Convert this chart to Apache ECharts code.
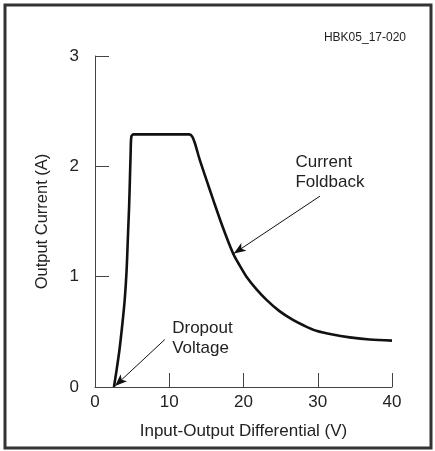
<!DOCTYPE html>
<html>
<head>
<meta charset="utf-8">
<script src="https://cdn.jsdelivr.net/npm/echarts@6/dist/echarts.min.js"></script>
<style>
html, body { margin: 0; padding: 0; background: #fff; }
#main { width: 435px; height: 451px; }
</style>
</head>
<body>
<div id="main"></div>
<script>
// curve: input-output differential (V) vs output current (A)
var voltage = [2.55, 2.9, 3.3, 3.7, 4.0, 4.25, 4.45, 4.6, 4.7, 4.8, 4.9, 5.2, 8, 11, 12.7, 13.1, 13.5, 14.1, 15, 15.9, 17.2, 18.6, 19.5, 20.4, 21.7, 23.1, 24.8, 26.6, 28.2, 29.8, 32, 34.3, 37, 40];
var current = [0, 0.15, 0.34, 0.58, 0.79, 1.05, 1.39, 1.65, 1.88, 2.12, 2.27, 2.29, 2.29, 2.29, 2.29, 2.27, 2.2, 2.06, 1.88, 1.70, 1.45, 1.21, 1.10, 1.0, 0.89, 0.79, 0.69, 0.61, 0.555, 0.51, 0.475, 0.45, 0.43, 0.42];
var xTicks = [0, 10, 20, 30, 40];
var yTicks = [0, 1, 2, 3];

var points = voltage.map(function (v, i) { return [v, current[i]]; });
var font = 'Liberation Sans, Arial, sans-serif';

var myChart = echarts.init(document.getElementById('main'));
var option = {
    backgroundColor: '#fff',
    animation: false,
    graphic: [
        {
            type: 'rect',
            shape: { x: 5, y: 5, width: 426, height: 443 },
            style: { fill: 'none', stroke: '#333', lineWidth: 3 }
        },
        {
            type: 'text',
            right: 29,
            top: 32,
            style: { text: 'HBK05_17-020', font: '12px ' + font, fill: '#222' }
        }
    ],
    grid: { left: 95, right: 43, top: 56, bottom: 64 },
    xAxis: {
        type: 'value',
        min: 0, max: 40, interval: 10,
        name: 'Input-Output Differential (V)',
        nameLocation: 'middle',
        nameGap: 36,
        nameTextStyle: { fontFamily: font, fontSize: 17, color: '#222' },
        axisLine: { lineStyle: { color: '#444', width: 1 } },
        axisTick: { inside: true, length: 14, lineStyle: { color: '#444' } },
        axisLabel: { fontFamily: font, fontSize: 17, color: '#222', margin: 7,
            formatter: function (v) { return xTicks.indexOf(v) >= 0 ? String(v) : ''; } },
        splitLine: { show: false }
    },
    yAxis: {
        type: 'value',
        min: 0, max: 3, interval: 1,
        name: 'Output Current (A)',
        nameLocation: 'middle',
        nameGap: 44,
        nameTextStyle: { fontFamily: font, fontSize: 16.5, color: '#222' },
        axisLine: { show: true, lineStyle: { color: '#444', width: 1 } },
        axisTick: { show: true, inside: true, length: 14, lineStyle: { color: '#444' } },
        axisLabel: { fontFamily: font, fontSize: 17, color: '#222', margin: 16,
            formatter: function (v) { return yTicks.indexOf(v) >= 0 ? String(v) : ''; } },
        splitLine: { show: false }
    },
    series: [{
        type: 'line',
        data: points,
        smooth: 0.3,
        showSymbol: false,
        lineStyle: { color: '#111', width: 2.6 },
        markLine: {
            silent: true,
            symbol: ['none', 'arrow'],
            symbolSize: [7, 12],
            lineStyle: { color: '#111', width: 1, type: 'solid' },
            label: { show: false },
            data: [
                [{ coord: [9.4, 0.43] }, { coord: [2.7, 0.01] }],
                [{ coord: [30.3, 1.73] }, { coord: [18.7, 1.21] }]
            ]
        },
        markPoint: {
            silent: true,
            symbol: 'rect',
            symbolSize: 0,
            label: {
                show: true,
                position: 'right',
                distance: 0,
                fontFamily: font,
                fontSize: 17,
                color: '#222',
                lineHeight: 20,
                align: 'left'
            },
            data: [
                { coord: [10.4, 0.44], label: { formatter: 'Dropout\nVoltage' } },
                { coord: [27.0, 1.95], label: { formatter: 'Current\nFoldback' } }
            ]
        }
    }]
};
myChart.setOption(option);
</script>
</body>
</html>
